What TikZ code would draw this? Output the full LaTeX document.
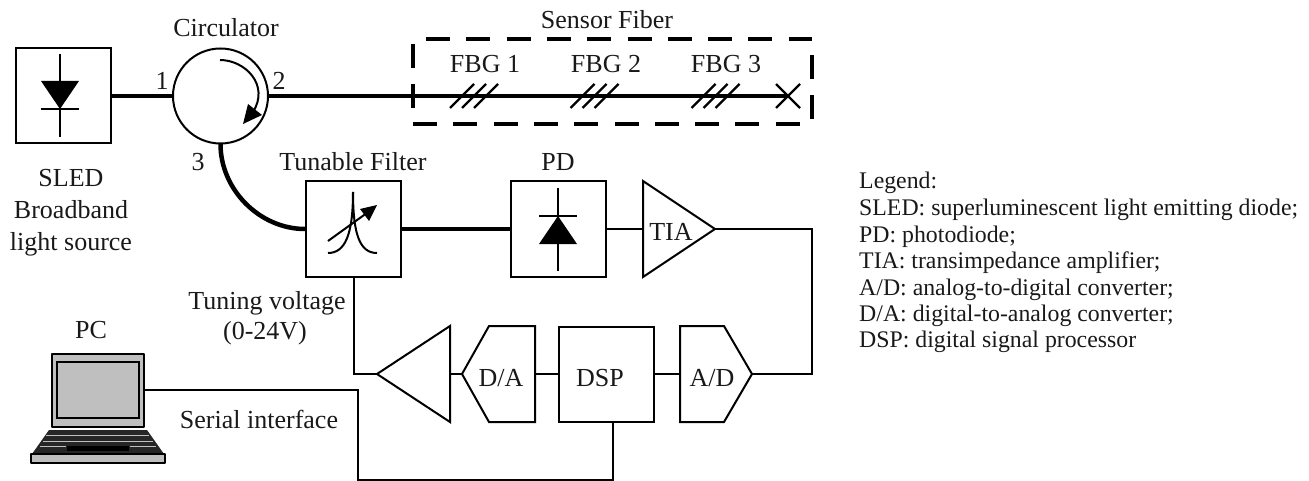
\documentclass[tikz,border=0pt]{standalone}
\usepackage{fontspec}
\setmainfont{Liberation Serif}
\usetikzlibrary{arrows.meta}
\definecolor{pcgray}{HTML}{BFBFBF}
\tikzset{
  x=1pt,y=-1pt,
  lbl/.style={inner sep=0pt,font=\fontsize{26}{30}\selectfont,text=black!90},
  leg/.style={inner sep=0pt,anchor=base west,font=\fontsize{23.8}{26}\selectfont,text=black!90},
  thin line/.style={line width=2pt,line join=miter},
  fiber/.style={line width=4.5pt},
  dashbox/.style={line width=4.5pt,dash pattern=on 24pt off 16.3pt},
  bloc/.style={draw,line width=2pt,minimum size=95pt,inner sep=0pt,fill=white},
  grate/.style={line width=2.4pt},
}
\newcommand{\fbgmarks}[1]{%
  \draw[grate,xshift=#1pt] (450,108)--(474,84) (462,108)--(486,84) (474,108)--(498,84);}
\begin{document}
\begin{tikzpicture}
\useasboundingbox (0,0) rectangle (1309,481);
% connectors first
\node[bloc] (sled) at (63.5,96) {};
\node[bloc] (filter) at (353.5,229) {};
\node[bloc] (pd) at (558.5,229) {};
\node[bloc] (dsp) at (606.5,374) {};
\node[draw,circle,line width=2pt,minimum size=95pt,inner sep=0pt] (circ) at (220.5,96) {};
\coordinate (fiberend) at (788,96);
\coordinate (port3) at (220.5,144);
\coordinate (tiain) at (643,229);
\coordinate (tiaout) at (715,229);
\coordinate (adout) at (752,374);
\coordinate (adin) at (680,374);
\coordinate (daout) at (462,374);
\coordinate (dain) at (535,374);
\coordinate (ampin) at (450,374);
\coordinate (ampout) at (377,374);
\coordinate (pcport) at (145,390);
\draw[fiber] (sled.east) -- (circ.west);
\draw[fiber] (circ.east) -- (fiberend);
\draw[fiber] (port3) .. controls (220.5,190) and (260,229) .. (filter.west);
\draw[fiber] (filter.east) -- (pd.west);
\draw[thin line] (pd.east) -- (tiain);
\draw[thin line] (tiaout) -- (812,229) |- (adout);
\draw[thin line] (adin) -- (dsp.east);
\draw[thin line] (dsp.west) -- (dain);
\draw[thin line] (daout) -- (ampin);
\draw[thin line] (ampout) -- (353.5,374) -- (filter.south);
\draw[thin line] (pcport) -- (358,390) -- (358,480) -- (613,480) -- (613,422);
% SLED diode
\draw[thin line] (60,54)--(60,137) (41,109)--(79,109);
\fill (41,81)--(79,81)--(60,109)--cycle;
% circulator arrow
\draw[line width=2pt] (220,60) .. controls (245,60) and (270,85) .. (253,112);
\fill (248,104)--(243,124)--(262,115)--cycle;
% filter glyph
\draw[line width=2pt] (353,192) .. controls (353,235) and (345,253) .. (328,253);
\draw[line width=2pt] (353,192) .. controls (353,235) and (360,253) .. (377,253);
\draw[line width=2pt] (328,241)--(371,210);
\fill (377,205)--(360,209)--(369,221)--cycle;
% PD diode
\draw[thin line] (558,188)--(558,271) (539,216)--(577,216);
\fill (558,216)--(539,244)--(577,244)--cycle;
% TIA, ADC, DAC, amp
\draw[thin line] (643,181)--(715,229)--(643,277)--cycle;
\draw[thin line] (680,326)--(724,326)--(752,374)--(724,422)--(680,422)--cycle;
\draw[thin line] (535,326)--(489,326)--(462,374)--(489,422)--(535,422)--cycle;
\draw[thin line] (450,326)--(377,374)--(450,422)--cycle;
% sensor box
\draw[dashbox] (426,39)--(812,39);
\draw[dashbox] (413,44)--(413,108);
\draw[dashbox] (413,124)--(800,124);
\draw[dashbox] (812,55)--(812,120);
\fbgmarks{0}\fbgmarks{120.5}\fbgmarks{241.5}
\draw[grate] (776,84)--(800,108) (776,108)--(800,84);
% laptop
\draw[line width=2pt,fill=pcgray,line join=round] (52,354) rectangle (144,427);
\draw[line width=2pt,fill=pcgray] (57,362) rectangle (139,418);
\fill[black!85] (49,430)--(147,430)--(164,454)--(32,454)--cycle;
\draw[pcgray,line width=1pt] (46,435)--(149,435) (43,441)--(153,441) (40,446)--(66,446) (130,446)--(156,446);
\fill (67,446) rectangle (129,451);
\draw[line width=2pt,fill=pcgray,line join=round] (31,454) rectangle (165,463);
% labels
\node[lbl] (tcirc) at (226,28) {Circulator};
\node[lbl] (t1) at (162,81) {1};
\node[lbl] (t2) at (279,81) {2};
\node[lbl] (t3) at (198,162) {3};
\node[lbl,align=center] (tsled) at (71,213) {SLED\\[2pt]Broadband\\[2pt]light source};
\node[lbl] (tsf) at (607,20) {Sensor Fiber};
\node[lbl] (tf1) at (485,64) {FBG 1};
\node[lbl] (tf2) at (606,64) {FBG 2};
\node[lbl] (tf3) at (726,64) {FBG 3};
\node[lbl] (ttf) at (353,162) {Tunable Filter};
\node[lbl] (tpd) at (558,162) {PD};
\node[lbl] (ttia) at (671,232) {TIA};
\node[lbl] (tad) at (712,378) {A/D};
\node[lbl] (tdsp) at (600,378) {DSP};
\node[lbl] (tda) at (501,378) {D/A};
\node[lbl] (tpc) at (91,330) {PC};
\node[lbl] (ttv) at (267,303) {Tuning voltage};
\node[lbl] (tv) at (265,333) {(0-24V)};
\node[lbl] (tser) at (259,419) {Serial interface};
\node[leg] (l1) at (859,189) {Legend:};
\node[leg] (l2) at (859,215.5) {SLED: superluminescent light emitting diode;};
\node[leg] (l3) at (859,242) {PD: photodiode;};
\node[leg] (l4) at (859,268) {TIA: transimpedance amplifier;};
\node[leg] (l5) at (859,295) {A/D: analog-to-digital converter;};
\node[leg] (l6) at (859,321) {D/A: digital-to-analog converter;};
\node[leg] (l7) at (859,347.5) {DSP: digital signal processor};
\end{tikzpicture}
\end{document}
